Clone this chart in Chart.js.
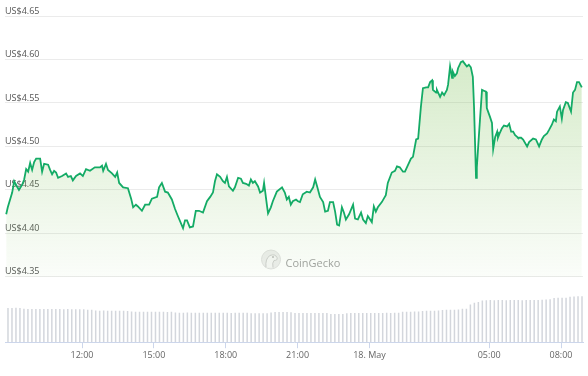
<!DOCTYPE html>
<html lang="en">
<head>
<meta charset="UTF-8" />
<title>Price chart</title>
<style>
  body { margin: 0; background: #fff; }
  .chart-container { width: 588px; height: 376px; position: relative; }
</style>
</head>
<body>
<div class="chart-container"><canvas id="priceChart"></canvas></div>
<script src="https://cdn.jsdelivr.net/npm/chart.js"></script>
<script>
// minutes since 17 May 00:00
const priceMinutes = [
  530, 534, 545, 550, 557, 562, 570, 575, 580, 585, 590, 595, 600, 605, 615, 620, 625, 635, 640, 645,
  650, 655, 660, 670, 680, 685, 692, 697, 705, 715, 722, 730, 740, 752, 765, 770, 773, 780, 785, 795,
  803, 808, 813, 823, 835, 843, 848, 855, 860, 870, 878, 888, 895, 908, 913, 920, 928, 935, 945, 953,
  960, 973, 978, 983, 990, 998, 1005, 1013, 1023, 1033, 1041, 1048, 1053, 1058, 1066, 1073, 1078, 1083, 1088, 1098,
  1103, 1111, 1118, 1123, 1131, 1138, 1143, 1148, 1153, 1161, 1166, 1173, 1176, 1183, 1186, 1193, 1198, 1208, 1221, 1228,
  1233, 1238, 1243, 1248, 1256, 1261, 1266, 1273, 1283, 1291, 1299, 1304, 1309, 1316, 1324, 1329, 1336, 1341, 1349, 1354,
  1359, 1364, 1371, 1376, 1381, 1389, 1399, 1404, 1411, 1419, 1424, 1431, 1436, 1446, 1451, 1456, 1461, 1471, 1476, 1481,
  1486, 1496, 1504, 1509, 1516, 1524, 1529, 1537, 1544, 1549, 1557, 1562, 1569, 1574, 1582, 1587, 1592, 1597, 1599, 1607,
  1609, 1617, 1622, 1627, 1634, 1637, 1642, 1647, 1649, 1654, 1659, 1662, 1669, 1674, 1679, 1684, 1689, 1694, 1699, 1702,
  1707, 1709, 1714, 1722, 1727, 1732, 1734, 1742, 1747, 1750, 1755, 1760, 1762, 1767, 1772, 1777, 1785, 1790, 1795, 1800,
  1805, 1810, 1812, 1820, 1825, 1835, 1840, 1850, 1857, 1865, 1872, 1877, 1885, 1890, 1897, 1902, 1907, 1910, 1917, 1922,
  1925, 1932, 1937, 1945, 1950, 1955, 1960, 1965, 1972
];
const prices = [
  4.422, 4.430, 4.447, 4.460, 4.454, 4.450, 4.456, 4.462, 4.474, 4.471, 4.481, 4.473, 4.482, 4.486, 4.486, 4.471, 4.480, 4.479, 4.473, 4.468,
  4.472, 4.470, 4.464, 4.466, 4.469, 4.465, 4.466, 4.461, 4.466, 4.469, 4.466, 4.474, 4.472, 4.476, 4.476, 4.478, 4.472, 4.480, 4.473, 4.469,
  4.465, 4.470, 4.458, 4.453, 4.452, 4.440, 4.430, 4.433, 4.431, 4.426, 4.433, 4.433, 4.440, 4.442, 4.453, 4.458, 4.448, 4.447, 4.439, 4.428,
  4.420, 4.406, 4.415, 4.415, 4.407, 4.408, 4.426, 4.426, 4.424, 4.437, 4.442, 4.447, 4.460, 4.468, 4.465, 4.460, 4.458, 4.465, 4.454, 4.449,
  4.453, 4.464, 4.463, 4.458, 4.457, 4.455, 4.462, 4.458, 4.460, 4.454, 4.447, 4.449, 4.458, 4.433, 4.423, 4.430, 4.437, 4.448, 4.453, 4.447,
  4.439, 4.442, 4.433, 4.437, 4.439, 4.437, 4.436, 4.445, 4.448, 4.447, 4.453, 4.462, 4.454, 4.442, 4.436, 4.425, 4.426, 4.436, 4.436, 4.425,
  4.410, 4.409, 4.430, 4.424, 4.416, 4.422, 4.433, 4.417, 4.416, 4.424, 4.416, 4.412, 4.420, 4.413, 4.431, 4.425, 4.430, 4.436, 4.440, 4.444,
  4.458, 4.470, 4.472, 4.477, 4.476, 4.471, 4.471, 4.479, 4.486, 4.488, 4.508, 4.509, 4.546, 4.567, 4.568, 4.568, 4.574, 4.576, 4.565, 4.562,
  4.565, 4.557, 4.562, 4.559, 4.565, 4.571, 4.592, 4.579, 4.586, 4.581, 4.584, 4.590, 4.597, 4.598, 4.595, 4.592, 4.594, 4.591, 4.580, 4.546,
  4.464, 4.476, 4.511, 4.565, 4.564, 4.563, 4.544, 4.534, 4.527, 4.497, 4.511, 4.517, 4.510, 4.516, 4.521, 4.524, 4.523, 4.526, 4.517, 4.517,
  4.513, 4.511, 4.510, 4.510, 4.508, 4.500, 4.505, 4.509, 4.508, 4.500, 4.508, 4.512, 4.515, 4.519, 4.525, 4.531, 4.529, 4.540, 4.546, 4.532,
  4.542, 4.551, 4.550, 4.540, 4.562, 4.565, 4.574, 4.574, 4.568
];
// 10-minute volume bars (millions)
const volumes = [
  51.4, 51.2, 51.6, 51.3, 50.2,
  49.8, 49.9, 49.8, 49.7, 49.8, 49.8, 49.9, 49.8, 49.7, 49.6, 49.7, 49.6, 49.5, 49.6, 49.4,
  48.9, 48.7,
  47.6, 47.4, 47.5, 47.3, 47.2, 47.3, 47.1, 47.2, 47.0,
  46.1, 45.9, 45.8, 45.8, 45.9, 45.7, 45.6, 45.8, 45.7, 45.5, 45.6,
  44.6, 44.4, 44.3, 44.5, 44.3, 44.2, 44.4, 44.3, 44.1, 44.2, 44.3, 44.4, 44.2, 44.1, 44.0, 44.2, 44.1, 44.3, 44.2,
  43.6, 43.4, 43.3, 43.5, 43.4,
  44.8, 45.2, 45.3, 45.4, 45.2, 45.0,
  44.0, 43.8, 43.9, 43.7, 43.8, 43.9, 43.8, 43.7, 43.8,
  42.5, 42.3, 42.4, 42.3,
  43.6, 43.8, 43.9, 43.8, 43.7, 43.8, 43.9, 44.0, 43.9, 44.0, 44.1, 44.0, 44.2, 44.3,
  45.6, 45.8, 45.9, 46.0, 46.1,
  47.0, 47.2, 47.3, 47.4, 47.5,
  48.5, 48.7, 48.8, 48.9, 49.0,
  50.1, 50.4, 56.5, 59.4, 60.2,
  62.8, 63.2, 63.3, 63.1, 63.4, 63.3, 63.2, 63.4, 63.3, 63.5, 63.2, 63.3, 63.4, 63.3, 63.5, 63.6,
  64.2, 64.4,
  66.3, 66.6, 66.8, 66.9,
  68.4, 68.7, 68.9, 69.1
];
const tickMinutes = [720, 900, 1080, 1260, 1440, 1740, 1920];
const tickLabels = ["12:00", "15:00", "18:00", "21:00", "18. May", "05:00", "08:00"];
const priceTicks = [4.35, 4.40, 4.45, 4.50, 4.55, 4.60, 4.65];

const fontFamily = '"Open Sans", "Noto Sans", sans-serif';

// faded CoinGecko mark in the middle of the plot
const watermark = {
  id: "watermark",
  beforeDatasetsDraw(chart) {
    const { ctx, chartArea } = chart;
    const cx = chartArea.left + 266;
    const cy = chartArea.top + 243.5;
    ctx.save();
    ctx.beginPath();
    ctx.arc(cx, cy, 9.5, 0, Math.PI * 2);
    ctx.fillStyle = "#eeeeee";
    ctx.fill();
    ctx.strokeStyle = "#e0e0e0";
    ctx.lineWidth = 1;
    ctx.stroke();
    // gecko head
    ctx.beginPath();
    ctx.moveTo(cx - 5, cy + 8);
    ctx.quadraticCurveTo(cx - 6, cy - 1, cx - 1, cy - 4);
    ctx.quadraticCurveTo(cx + 4, cy - 6, cx + 6, cy - 2);
    ctx.quadraticCurveTo(cx + 7, cy + 1, cx + 3, cy + 1);
    ctx.quadraticCurveTo(cx + 1, cy + 3, cx + 2, cy + 8);
    ctx.fillStyle = "#f7f7f7";
    ctx.fill();
    ctx.strokeStyle = "#cfcfcf";
    ctx.stroke();
    ctx.beginPath();
    ctx.arc(cx + 2, cy - 2.5, 1, 0, Math.PI * 2);
    ctx.fillStyle = "#bdbdbd";
    ctx.fill();
    ctx.font = "11px " + fontFamily;
    ctx.fillStyle = "#a2a2a2";
    ctx.textBaseline = "alphabetic";
    ctx.fillText("CoinGecko", cx + 14.5, cy + 7);
    ctx.restore();
  },
};

const pricePoints = priceMinutes.map((m, i) => ({ x: m, y: prices[i] }));

const chart = new Chart(document.getElementById("priceChart"), {
  type: "bar",
  data: {
    labels: volumes.map((_, i) => i),
    datasets: [
      {
        type: "line",
        data: pricePoints,
        xAxisID: "x",
        yAxisID: "y",
        borderColor: "#14ab66",
        borderWidth: 1.8,
        pointRadius: 0,
        tension: 0,
        fill: { value: priceTicks[0] },
        backgroundColor: (context) => {
          const { chart } = context;
          if (!chart.chartArea) return "rgba(120,190,80,0.15)";
          const top = chart.scales.y.getPixelForValue(priceTicks[priceTicks.length - 1]);
          const bottom = chart.scales.y.getPixelForValue(priceTicks[0]);
          const g = chart.ctx.createLinearGradient(0, top, 0, bottom);
          g.addColorStop(0, "rgba(120,190,80,0.36)");
          g.addColorStop(1, "rgba(120,190,80,0.03)");
          return g;
        },
      },
      {
        type: "bar",
        data: volumes,
        xAxisID: "xv",
        yAxisID: "yv",
        backgroundColor: "#d3d6dc",
        barPercentage: 0.75,
        categoryPercentage: 1,
      },
    ],
  },
  options: {
    responsive: true,
    maintainAspectRatio: false,
    animation: false,
    layout: { padding: { left: 5, right: 5, top: 16, bottom: 13 } },
    plugins: { legend: { display: false }, tooltip: { enabled: false } },
    scales: {
      x: {
        type: "linear",
        offset: false,
        min: 527,
        max: 1975,
        afterBuildTicks: (axis) => {
          axis.ticks = tickMinutes.map((v) => ({ value: v }));
        },
        ticks: {
          autoSkip: false,
          maxRotation: 0,
          padding: 2,
          color: "#666",
          font: { family: fontFamily, size: 9 },
          callback: (value) => tickLabels[tickMinutes.indexOf(value)],
        },
        grid: { offset: false, drawOnChartArea: false, drawTicks: true, tickLength: 6, color: "#ccd6eb" },
        border: { color: "#ccd6eb" },
      },
      xv: { type: "category", display: false, offset: true },
      y: {
        position: "left",
        min: 4.2749,
        max: 4.65,
        afterBuildTicks: (axis) => {
          axis.ticks = priceTicks.map((v) => ({ value: v }));
        },
        ticks: {
          mirror: true,
          padding: 0,
          labelOffset: -5,
          color: "#555",
          font: { family: fontFamily, size: 9 },
          callback: (value) => "US$" + value.toFixed(2),
        },
        grid: { color: "#ebebeb", drawTicks: false },
        border: { display: false },
      },
      yv: { display: false, min: 0, max: 490 },
    },
  },
  plugins: [watermark],
});
</script>
</body>
</html>
